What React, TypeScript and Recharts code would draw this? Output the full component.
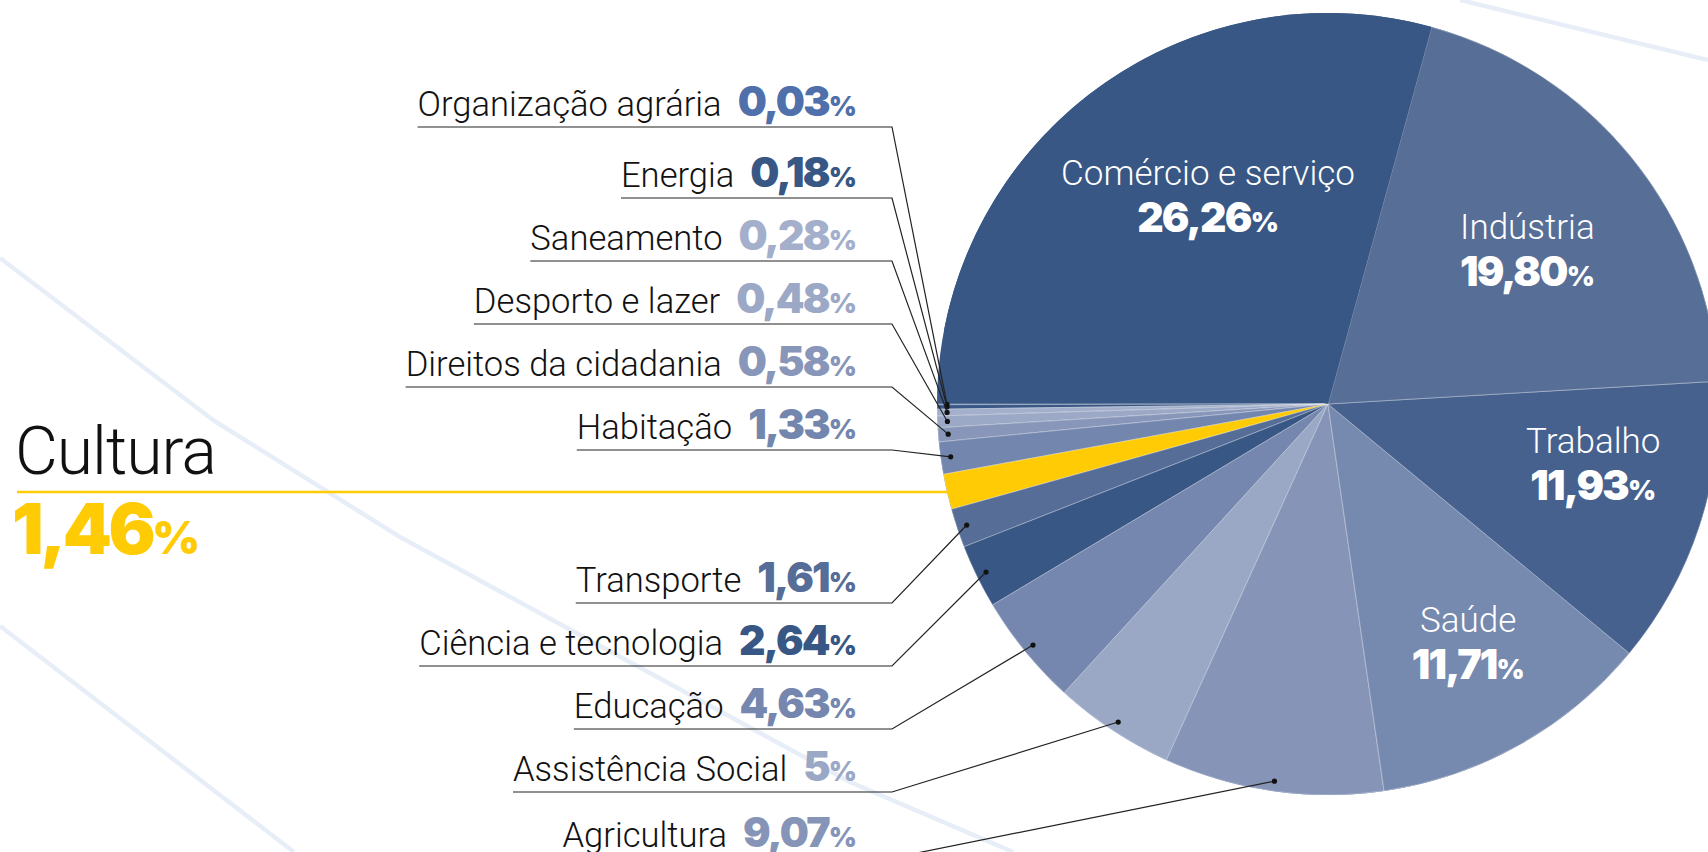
import { useLayoutEffect, useRef, useState } from 'react';
import { PieChart, Pie, Cell } from 'recharts';

// ordem das fatias a partir das 9 horas, descendo
const categorias = [
    'Organização agrária', 'Energia', 'Saneamento', 'Desporto e lazer', 'Direitos da cidadania',
    'Habitação', 'Cultura', 'Transporte', 'Ciência e tecnologia', 'Educação', 'Assistência Social',
    'Agricultura', 'Saúde', 'Trabalho', 'Indústria', 'Comércio e serviço',
];
const percentuais = [0.03, 0.18, 0.28, 0.48, 0.58, 1.33, 1.46, 1.61, 2.64, 4.63, 5, 9.07, 11.71, 11.93, 19.8, 26.26];
const cores = [
    '#4f70aa', '#385784', '#a3afcb', '#9ba8c6', '#8896b9', '#7386ae', '#ffcb05', '#566d97',
    '#385784', '#7587ae', '#9aa8c6', '#8694b7', '#7689af', '#46618e', '#576e96', '#385784',
];

// y do sublinhado de cada rótulo externo
const linhasRotulo: Record<string, number> = {
    'Organização agrária': 127, 'Energia': 198, 'Saneamento': 261, 'Desporto e lazer': 324,
    'Direitos da cidadania': 387, 'Habitação': 450, 'Transporte': 603, 'Ciência e tecnologia': 666,
    'Educação': 729, 'Assistência Social': 792, 'Agricultura': 858,
};
// rótulos dentro da pizza: raio e ajuste de ângulo
const rotulosInternos: Record<string, { r: number; da: number }> = {
    'Comércio e serviço': { r: 240, da: -1.9 },
    'Indústria': { r: 252, da: -1.3 },
    'Trabalho': { r: 272, da: 5.3 },
    'Saúde': { r: 277, da: 1.1 },
};

const W = 1708, H = 852, CX = 1328, CY = 404, R = 391;
const COTOVELO = 892;
const FIM_TEXTO = 857;
const fonteNome = "Roboto, 'Liberation Sans', sans-serif";
const fonteNum = "Inter, Lato, sans-serif";

const dados = categorias.map((nome, i) => ({ nome, valor: percentuais[i], cor: cores[i] }));
const total = percentuais.reduce((a, b) => a + b, 0);

const fmt = (v: number) => (Number.isInteger(v) ? String(v) : v.toFixed(2).replace('.', ','));
const RAD = Math.PI / 180;
const polar = (cx: number, cy: number, r: number, ang: number) => ({
    x: cx + r * Math.cos(-ang * RAD),
    y: cy + r * Math.sin(-ang * RAD),
});

function RotuloExterno({ nome, valor, cor, y, ponto }: any) {
    const ref = useRef<SVGTextElement>(null);
    const [x0, setX0] = useState(COTOVELO - 300);
    useLayoutEffect(() => {
        if (ref.current) setX0(ref.current.getBBox().x);
    }, [nome]);
    return (
        <g>
            <text ref={ref} x={FIM_TEXTO} y={y - 11} textAnchor="end" fontFamily={fonteNome} fontSize={34.6} fontWeight={300} fill="#111">
                {nome}
                <tspan dx={16} fontFamily={fonteNum} fontWeight={900} fontSize={41} fill={cor} letterSpacing={-1.8}>{fmt(valor)}</tspan>
                <tspan fontFamily={fonteNum} fontWeight={900} fontSize={27} fill={cor}>%</tspan>
            </text>
            <polyline points={`${x0},${y} ${COTOVELO},${y} ${ponto.x},${ponto.y}`} fill="none" stroke="#222" strokeWidth={1.2} />
            <circle cx={ponto.x} cy={ponto.y} r={2.6} fill="#111" />
        </g>
    );
}

function renderRotulo(props: any) {
    const { cx, cy, midAngle, outerRadius, payload } = props;
    const { nome, valor, cor } = payload;

    if (nome === 'Cultura') {
        const p = polar(cx, cy, outerRadius, midAngle);
        return (
            <g>
                <line x1={17} y1={p.y} x2={p.x} y2={p.y} stroke="#ffcb05" strokeWidth={2.5} />
                <text x={15} y={p.y - 18} fontFamily={fonteNome} fontSize={66} fontWeight={300} fill="#111" letterSpacing={-1}>{nome}</text>
                <text x={12} y={p.y + 62} fontFamily={fonteNum} fontSize={70} fontWeight={900} fill="#ffcb05" letterSpacing={-3.5}>
                    {fmt(valor)}<tspan fontSize={46} letterSpacing={0}>%</tspan>
                </text>
            </g>
        );
    }

    const interno = rotulosInternos[nome];
    if (interno) {
        const p = polar(cx, cy, interno.r, midAngle + interno.da);
        return (
            <text textAnchor="middle" fill="#fff">
                <tspan x={p.x} y={p.y - 11} fontFamily={fonteNome} fontSize={35} fontWeight={300}>{nome}</tspan>
                <tspan x={p.x} y={p.y + 36} fontFamily={fonteNum} fontSize={41} fontWeight={900} letterSpacing={-1.8}>
                    {fmt(valor)}<tspan fontSize={27} letterSpacing={0}>%</tspan>
                </tspan>
            </text>
        );
    }

    const y = linhasRotulo[nome];
    if (y === undefined) return null;
    const ponto = polar(cx, cy, outerRadius - 10, midAngle);
    return <RotuloExterno nome={nome} valor={valor} cor={cor} y={y} ponto={ponto} />;
}

export default function App() {
    return (
        <div style={{ position: 'fixed', left: 0, top: 0, width: W, height: H, background: '#fff', overflow: 'hidden' }}>
            <svg width={W} height={H} style={{ position: 'absolute', left: 0, top: 0 }}>
                <polyline points="0,258 213,420 400,537 850,782 1013,852" fill="none" stroke="#e8eef7" strokeWidth={4.5} strokeLinejoin="round" />
                <line x1={0} y1={626} x2={294} y2={852} stroke="#e8eef7" strokeWidth={4.5} />
                <line x1={1460} y1={0} x2={1708} y2={60} stroke="#e8eef7" strokeWidth={4.5} />
            </svg>
            <div style={{ position: 'absolute', left: 0, top: 0 }}>
                <PieChart width={W} height={H} margin={{ top: 0, right: 0, bottom: 0, left: 0 }}>
                    <Pie data={[{ v: 1 }]} dataKey="v" cx={CX} cy={CY} outerRadius={R} fill="#385784" stroke="none" isAnimationActive={false} />
                    <Pie
                        data={dados}
                        dataKey="valor"
                        nameKey="nome"
                        cx={CX}
                        cy={CY}
                        outerRadius={R}
                        startAngle={180}
                        endAngle={180 + (360 * total) / 100}
                        label={renderRotulo}
                        labelLine={false}
                        isAnimationActive={false}
                    >
                        {dados.map((d) => (
                            <Cell
                                key={d.nome}
                                fill={d.cor}
                                stroke={d.nome === 'Comércio e serviço' ? 'none' : 'rgba(255,255,255,0.35)'}
                                strokeWidth={1}
                            />
                        ))}
                    </Pie>
                </PieChart>
            </div>
        </div>
    );
}
